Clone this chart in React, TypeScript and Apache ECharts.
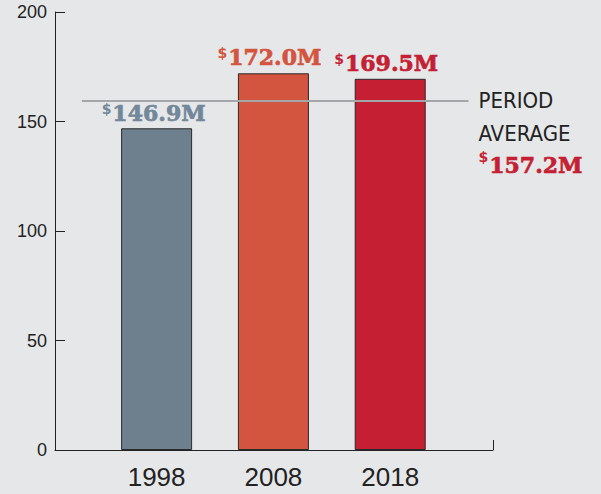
import React, { useEffect, useRef } from "react";
import * as echarts from "echarts";

const years = [1998, 2008, 2018];
const values = [146.9, 172.0, 169.5];
const barColors = ["#6e808d", "#d3553f", "#c41f33"];
const labelColors = ["#72879a", "#d3553f", "#c41f33"];
const periodAverage = 157.2;
const avgLineLevel = 159.5; // where the reference draws the average rule
const avgLineSpan = [1991.6, 2024.7];
const yTicks = [0, 50, 100, 150, 200];
const xRange = [1989.3, 2026.8];

const SERIF = '"DejaVu Serif", serif';
const SANS = '"Liberation Sans", Arial, sans-serif';
const SANS_COND = '"DejaVu Sans Condensed", "DejaVu Sans", sans-serif';

function money(v: number) {
  return `{s|$}{v|${v.toFixed(1)}M}`;
}

export default function App() {
  const ref = useRef<HTMLDivElement>(null);
  useEffect(() => {
    document.body.style.margin = "0";
    const chart = echarts.init(ref.current!, null, { renderer: "svg" });
    const richFor = (color: string, lh: number) => ({
      s: { fontFamily: '"DejaVu Sans", sans-serif', fontWeight: "bold", fontSize: 14, color, verticalAlign: "top", lineHeight: lh, padding: [0, 1, 6, 0] },
      v: { fontFamily: SERIF, fontWeight: "bold", fontSize: 22, color, lineHeight: lh, textBorderColor: color, textBorderWidth: 0.7 },
    });
    chart.setOption({
      animation: false,
      backgroundColor: "#e6e7e9",
      grid: { left: 55, right: 108, top: 12, bottom: 44 },
      xAxis: {
        type: "value",
        min: xRange[0],
        max: xRange[1],
        splitLine: { show: false },
        axisLine: { lineStyle: { color: "#222", width: 1 } },
        axisTick: { show: true, inside: true, length: 10, customValues: [xRange[1]], lineStyle: { color: "#222" } },
        axisLabel: {
          customValues: years,
          formatter: (v: number) => String(v),
          color: "#222",
          fontFamily: SANS,
          fontSize: 26,
          margin: 14,
        },
      },
      yAxis: {
        type: "value",
        min: yTicks[0],
        max: yTicks[yTicks.length - 1],
        interval: 50,
        splitLine: { show: false },
        axisLine: { show: true, lineStyle: { color: "#222", width: 1 } },
        axisTick: { show: true, inside: true, length: 10, lineStyle: { color: "#222" } },
        axisLabel: { color: "#222", fontFamily: SANS, fontSize: 18, margin: 8 },
      },
      series: [
        {
          type: "bar",
          barWidth: 71,
          data: years.map((y, i) => ({
            value: [y, values[i]],
            itemStyle: { color: barColors[i], borderColor: "#2a2a2a", borderWidth: 1 },
            label: {
              show: true,
              position: "top",
              distance: i === 0 ? 4 : 5,
              offset: i === 0 ? [-3, 0] : [-4, 0],
              formatter: money(values[i]),
              rich: richFor(labelColors[i], 22),
            },
          })),
          markLine: {
            silent: true,
            symbol: "none",
            label: { show: false },
            lineStyle: { color: "#a4a6a9", width: 2, type: "solid" },
            data: [[{ coord: [avgLineSpan[0], avgLineLevel] }, { coord: [avgLineSpan[1], avgLineLevel] }]],
          },
          markPoint: {
            silent: true,
            symbol: "rect",
            symbolSize: 0,
            data: [{ coord: [avgLineSpan[1], avgLineLevel] }],
            label: {
              show: true,
              position: [10, -17],
              formatter: `{a|PERIOD}\n{a|AVERAGE}\n${money(periodAverage)}`,
              rich: {
                a: { fontFamily: SANS_COND, fontSize: 22, color: "#222", lineHeight: 33 },
                ...richFor("#c41f33", 30),
              },
            },
          },
        },
      ],
    });
    return () => chart.dispose();
  }, []);
  return <div ref={ref} style={{ width: 601, height: 494 }} />;
}
